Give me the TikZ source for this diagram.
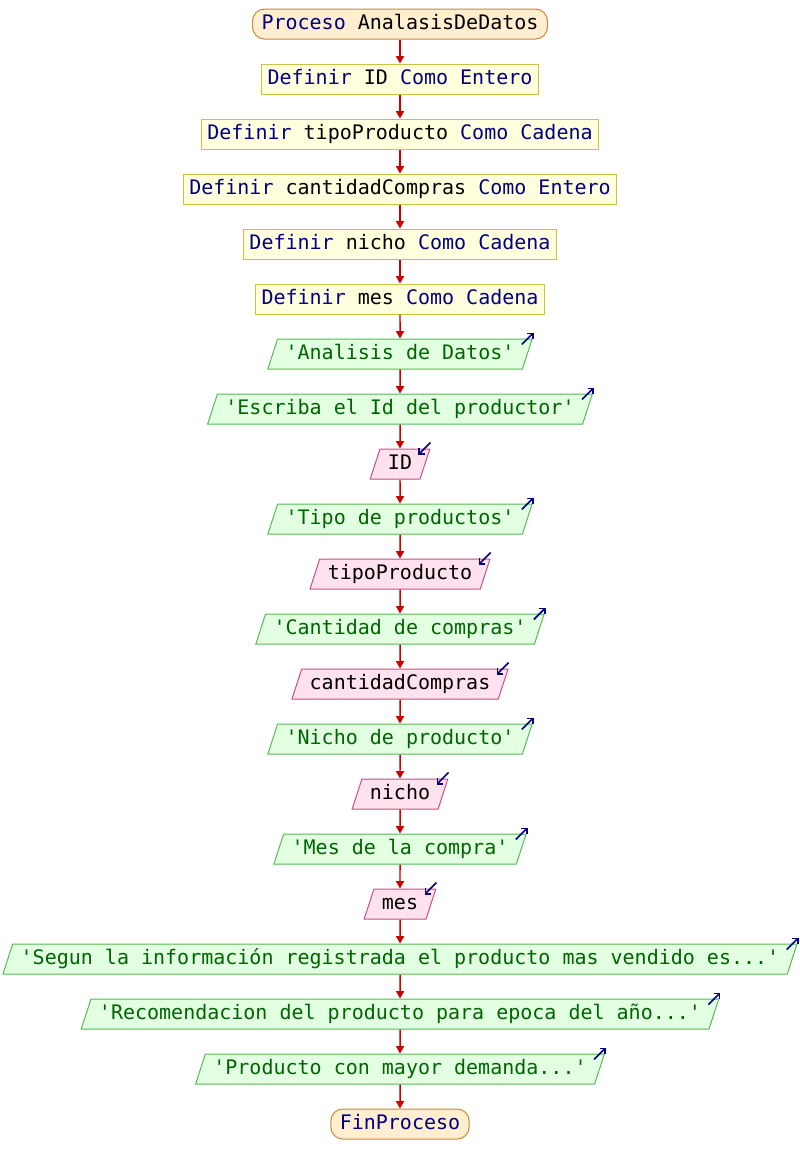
\documentclass[tikz,border=0pt]{standalone}
\usepackage{fontspec}
\setmonofont{DejaVu Sans Mono}
\usetikzlibrary{shapes.geometric,arrows.meta}

\definecolor{kwblue}{RGB}{0,0,128}
\definecolor{procfill}{RGB}{255,238,208}
\definecolor{procline}{RGB}{204,136,51}
\definecolor{deffill}{RGB}{255,255,221}
\definecolor{defline}{RGB}{200,195,70}
\definecolor{outfill}{RGB}{226,255,226}
\definecolor{outline}{RGB}{85,185,85}
\definecolor{outtext}{RGB}{0,100,0}
\definecolor{infill}{RGB}{255,226,238}
\definecolor{inline}{RGB}{200,80,130}
\definecolor{flowred}{RGB}{204,0,0}

\newcommand{\kw}[1]{\textcolor{kwblue}{#1}}

\tikzset{
	base/.style = {font=\ttfamily\fontsize{15}{18}\selectfont, text height=11.5pt, text depth=3.5pt, inner ysep=3.75pt, line width=0.75pt},
	procbox/.style = {base, rectangle, rounded corners=9pt, draw=procline, fill=procfill, inner xsep=6.75pt},
	defbox/.style = {base, rectangle, draw=defline, fill=deffill, inner xsep=4.5pt},
	outbox/.style = {base, trapezium, trapezium left angle=72, trapezium right angle=108, draw=outline, fill=outfill, text=outtext, inner xsep=6pt},
	inbox/.style = {base, trapezium, trapezium left angle=72, trapezium right angle=108, draw=inline, fill=infill, inner xsep=6pt},
	flow/.style = {-{Triangle[length=5.5pt,width=6pt]}, flowred, line width=1.1pt},
	outmark/.style = {-{Straight Barb[length=3pt,width=6pt]}, kwblue, line width=1.2pt},
	inmark/.style = {-{Straight Barb[length=3pt,width=6pt]}, kwblue, line width=1.2pt}
}

\begin{document}
\begin{tikzpicture}[x=0.75pt,y=0.75pt]
	\useasboundingbox (0,0) rectangle (800,-1175);
	\node (start) at (400,-24) [procbox] {\kw{Proceso} AnalasisDeDatos};
	\node (d1) at (400,-79) [defbox] {\kw{Definir} ID \kw{Como Entero}};
	\node (d2) at (400,-134) [defbox] {\kw{Definir} tipoProducto \kw{Como Cadena}};
	\node (d3) at (400,-189) [defbox] {\kw{Definir} cantidadCompras \kw{Como Entero}};
	\node (d4) at (400,-244) [defbox] {\kw{Definir} nicho \kw{Como Cadena}};
	\node (d5) at (400,-299) [defbox] {\kw{Definir} mes \kw{Como Cadena}};
	\node (o1) at (400,-354) [outbox] {'Analisis de Datos'};
	\node (o2) at (400,-409) [outbox] {'Escriba el Id del productor'};
	\node (i1) at (400,-464) [inbox] {ID};
	\node (o3) at (400,-519) [outbox] {'Tipo de productos'};
	\node (i2) at (400,-574) [inbox] {tipoProducto};
	\node (o4) at (400,-629) [outbox] {'Cantidad de compras'};
	\node (i3) at (400,-684) [inbox] {cantidadCompras};
	\node (o5) at (400,-739) [outbox] {'Nicho de producto'};
	\node (i4) at (400,-794) [inbox] {nicho};
	\node (o6) at (400,-849) [outbox] {'Mes de la compra'};
	\node (i5) at (400,-904) [inbox] {mes};
	\node (o7) at (400,-959) [outbox] {'Segun la información registrada el producto mas vendido es...'};
	\node (o8) at (400,-1014) [outbox] {'Recomendacion del producto para epoca del año...'};
	\node (o9) at (400,-1069) [outbox] {'Producto con mayor demanda...'};
	\node (stop) at (400,-1124) [procbox] {\kw{FinProceso}};
	% flow
	\draw[flow] (start) -- (d1);
	\draw[flow] (d1) -- (d2);
	\draw[flow] (d2) -- (d3);
	\draw[flow] (d3) -- (d4);
	\draw[flow] (d4) -- (d5);
	\draw[flow] (d5) -- (o1);
	\draw[flow] (o1) -- (o2);
	\draw[flow] (o2) -- (i1);
	\draw[flow] (i1) -- (o3);
	\draw[flow] (o3) -- (i2);
	\draw[flow] (i2) -- (o4);
	\draw[flow] (o4) -- (i3);
	\draw[flow] (i3) -- (o5);
	\draw[flow] (o5) -- (i4);
	\draw[flow] (i4) -- (o6);
	\draw[flow] (o6) -- (i5);
	\draw[flow] (i5) -- (o7);
	\draw[flow] (o7) -- (o8);
	\draw[flow] (o8) -- (o9);
	\draw[flow] (o9) -- (stop);
	% io marks
	\foreach \o in {o1,o2,o3,o4,o5,o6,o7,o8,o9}
		\draw[outmark] ([shift={(-11,-6)}]\o.top right corner) -- ++(12,12);
	\foreach \i in {i1,i2,i3,i4,i5}
		\draw[inmark] ([shift={(0,6)}]\i.top right corner) -- ++(-12,-12);
\end{tikzpicture}
\end{document}
